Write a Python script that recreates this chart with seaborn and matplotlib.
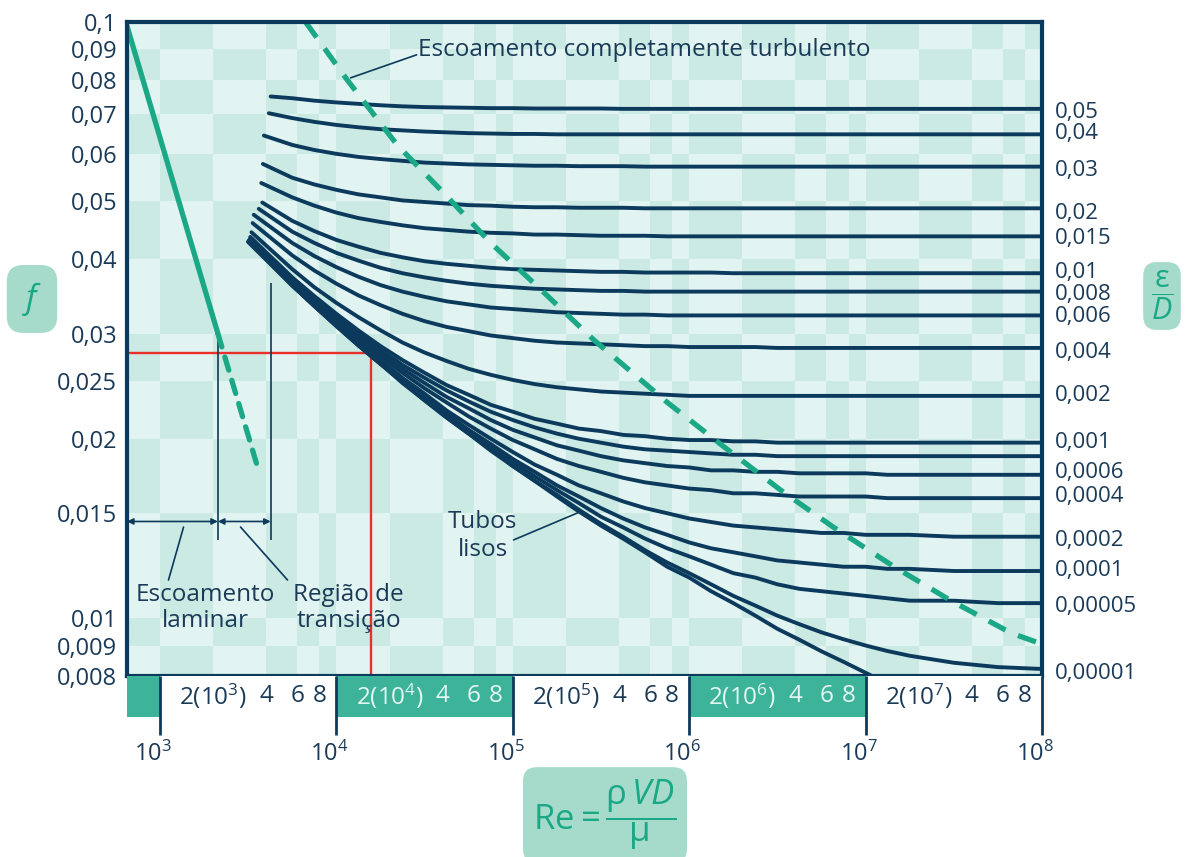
import numpy as np
import pandas as pd
import matplotlib
matplotlib.use("Agg")
import matplotlib.pyplot as plt
import matplotlib.transforms as mtransforms
import seaborn as sns
from matplotlib.colors import ListedColormap
from matplotlib.ticker import FixedLocator, FixedFormatter, NullLocator

# ------------------------------------------------------------------ data
re_grid = [5.62e3, 7.5e3, 1.0e4, 1.33e4, 1.78e4, 2.37e4, 3.16e4, 4.22e4, 5.62e4, 7.5e4,
           1.0e5, 1.33e5, 1.78e5, 2.37e5, 3.16e5, 4.22e5, 5.62e5, 7.5e5, 1.0e6, 1.33e6,
           1.78e6, 2.37e6, 3.16e6, 4.22e6, 5.62e6, 7.5e6, 1.0e7, 1.33e7, 1.78e7, 3.16e7,
           5.62e7, 1.0e8]

curve_names = ["0,05", "0,04", "0,03", "0,02", "0,015", "0,01", "0,008", "0,006",
               "0,004", "0,002", "0,001", "0,0008", "0,0006", "0,0004", "0,0002",
               "0,0001", "0,00005", "0,00001", "liso"]

start_re = [4240, 4140, 3880, 3830, 3750, 3800, 3630, 3400, 3350, 3300, 3250, 3250,
            3250, 3250, 3200, 3200, 3200, 3200, 3150]
start_f = [0.0750, 0.0703, 0.0645, 0.0578, 0.0537, 0.0498, 0.0486, 0.0475, 0.0460,
           0.0444, 0.0436, 0.0434, 0.0432, 0.0430, 0.0431, 0.0430, 0.0429, 0.0429, 0.0428]

f_05 = [0.0745, 0.0738, 0.0733, 0.0729, 0.0725, 0.0722, 0.0720, 0.0719, 0.0718, 0.0717,
        0.0717, 0.0716, 0.0716, 0.0716, 0.0716, 0.0715, 0.0715, 0.0715, 0.0715, 0.0715,
        0.0715, 0.0715, 0.0715, 0.0715, 0.0715, 0.0715, 0.0715, 0.0715, 0.0715, 0.0715,
        0.0715, 0.0715]
f_04 = [0.0690, 0.0680, 0.0672, 0.0666, 0.0661, 0.0658, 0.0655, 0.0653, 0.0651, 0.0650,
        0.0649, 0.0649, 0.0648, 0.0648, 0.0648, 0.0648, 0.0648, 0.0648, 0.0648, 0.0648,
        0.0648, 0.0648, 0.0648, 0.0648, 0.0648, 0.0648, 0.0648, 0.0648, 0.0648, 0.0648,
        0.0648, 0.0648]
f_03 = [0.0622, 0.0610, 0.0601, 0.0594, 0.0589, 0.0585, 0.0581, 0.0579, 0.0577, 0.0576,
        0.0575, 0.0574, 0.0574, 0.0573, 0.0573, 0.0573, 0.0572, 0.0572, 0.0572, 0.0572,
        0.0572, 0.0572, 0.0572, 0.0572, 0.0572, 0.0572, 0.0572, 0.0572, 0.0572, 0.0572,
        0.0572, 0.0572]
f_02 = [0.0548, 0.0534, 0.0523, 0.0514, 0.0508, 0.0502, 0.0499, 0.0496, 0.0493, 0.0492,
        0.0490, 0.0489, 0.0489, 0.0488, 0.0488, 0.0488, 0.0487, 0.0487, 0.0487, 0.0487,
        0.0487, 0.0487, 0.0487, 0.0487, 0.0487, 0.0487, 0.0487, 0.0487, 0.0487, 0.0487,
        0.0487, 0.0487]
f_015 = [0.0508, 0.0492, 0.0479, 0.0469, 0.0462, 0.0456, 0.0451, 0.0448, 0.0445, 0.0443,
         0.0442, 0.0440, 0.0440, 0.0439, 0.0438, 0.0438, 0.0438, 0.0437, 0.0437, 0.0437,
         0.0437, 0.0437, 0.0437, 0.0437, 0.0437, 0.0437, 0.0437, 0.0437, 0.0437, 0.0437,
         0.0437, 0.0437]
f_01 = [0.0464, 0.0446, 0.0431, 0.0420, 0.0410, 0.0403, 0.0397, 0.0393, 0.0390, 0.0387,
        0.0385, 0.0384, 0.0383, 0.0382, 0.0381, 0.0381, 0.0380, 0.0380, 0.0380, 0.0380,
        0.0379, 0.0379, 0.0379, 0.0379, 0.0379, 0.0379, 0.0379, 0.0379, 0.0379, 0.0379,
        0.0379, 0.0379]
f_008 = [0.0445, 0.0426, 0.0410, 0.0398, 0.0387, 0.0379, 0.0373, 0.0368, 0.0364, 0.0361,
         0.0359, 0.0357, 0.0356, 0.0355, 0.0354, 0.0354, 0.0353, 0.0353, 0.0353, 0.0353,
         0.0353, 0.0353, 0.0353, 0.0353, 0.0353, 0.0353, 0.0353, 0.0353, 0.0353, 0.0353,
         0.0353, 0.0353]
f_006 = [0.0426, 0.0405, 0.0388, 0.0374, 0.0362, 0.0353, 0.0346, 0.0340, 0.0336, 0.0332,
         0.0330, 0.0328, 0.0326, 0.0325, 0.0324, 0.0323, 0.0323, 0.0322, 0.0322, 0.0322,
         0.0322, 0.0322, 0.0322, 0.0322, 0.0322, 0.0322, 0.0322, 0.0322, 0.0322, 0.0322,
         0.0322, 0.0322]
f_004 = [0.0406, 0.0383, 0.0364, 0.0348, 0.0335, 0.0324, 0.0315, 0.0308, 0.0303, 0.0298,
         0.0295, 0.0292, 0.0290, 0.0289, 0.0288, 0.0287, 0.0286, 0.0286, 0.0285, 0.0285,
         0.0285, 0.0285, 0.0284, 0.0284, 0.0284, 0.0284, 0.0284, 0.0284, 0.0284, 0.0284,
         0.0284, 0.0284]
f_002 = [0.0385, 0.0359, 0.0338, 0.0320, 0.0304, 0.0290, 0.0279, 0.0270, 0.0262, 0.0256,
         0.0251, 0.0247, 0.0244, 0.0242, 0.0240, 0.0239, 0.0238, 0.0237, 0.0236, 0.0236,
         0.0236, 0.0236, 0.0236, 0.0236, 0.0236, 0.0236, 0.0236, 0.0236, 0.0236, 0.0236,
         0.0236, 0.0236]
f_001 = [0.0373, 0.0347, 0.0324, 0.0304, 0.0286, 0.0271, 0.0258, 0.0246, 0.0237, 0.0228,
         0.0222, 0.0216, 0.0212, 0.0208, 0.0206, 0.0203, 0.0202, 0.0200, 0.0199, 0.0199,
         0.0198, 0.0198, 0.0197, 0.0197, 0.0197, 0.0197, 0.0197, 0.0197, 0.0197, 0.0197,
         0.0197, 0.0197]
f_0008 = [0.0371, 0.0344, 0.0321, 0.0300, 0.0282, 0.0266, 0.0253, 0.0241, 0.0231, 0.0222,
          0.0215, 0.0209, 0.0204, 0.0200, 0.0197, 0.0194, 0.0192, 0.0191, 0.0190, 0.0189,
          0.0188, 0.0188, 0.0187, 0.0187, 0.0187, 0.0187, 0.0187, 0.0187, 0.0187, 0.0187,
          0.0187, 0.0187]
f_0006 = [0.0368, 0.0341, 0.0318, 0.0297, 0.0279, 0.0262, 0.0248, 0.0235, 0.0225, 0.0215,
          0.0207, 0.0201, 0.0195, 0.0191, 0.0187, 0.0184, 0.0182, 0.0180, 0.0179, 0.0177,
          0.0177, 0.0176, 0.0176, 0.0175, 0.0175, 0.0175, 0.0175, 0.0174, 0.0174, 0.0174,
          0.0174, 0.0174]
f_0004 = [0.0367, 0.0339, 0.0315, 0.0293, 0.0275, 0.0258, 0.0243, 0.0230, 0.0218, 0.0208,
          0.0199, 0.0192, 0.0185, 0.0180, 0.0176, 0.0172, 0.0169, 0.0167, 0.0165, 0.0164,
          0.0162, 0.0162, 0.0161, 0.0160, 0.0160, 0.0160, 0.0160, 0.0159, 0.0159, 0.0159,
          0.0159, 0.0159]
f_0002 = [0.0364, 0.0336, 0.0312, 0.0290, 0.0271, 0.0253, 0.0238, 0.0223, 0.0211, 0.0200,
          0.0190, 0.0181, 0.0174, 0.0167, 0.0162, 0.0157, 0.0153, 0.0150, 0.0147, 0.0145,
          0.0143, 0.0142, 0.0141, 0.0140, 0.0139, 0.0139, 0.0138, 0.0138, 0.0138, 0.0137,
          0.0137, 0.0137]
f_0001 = [0.0363, 0.0334, 0.0310, 0.0288, 0.0269, 0.0251, 0.0235, 0.0220, 0.0207, 0.0196,
          0.0185, 0.0176, 0.0167, 0.0160, 0.0153, 0.0147, 0.0142, 0.0138, 0.0134, 0.0131,
          0.0129, 0.0127, 0.0125, 0.0124, 0.0123, 0.0122, 0.0122, 0.0121, 0.0121, 0.0120,
          0.0120, 0.0120]
f_00005 = [0.0362, 0.0334, 0.0310, 0.0287, 0.0267, 0.0250, 0.0233, 0.0219, 0.0206, 0.0193,
           0.0183, 0.0173, 0.0164, 0.0156, 0.0148, 0.0142, 0.0136, 0.0131, 0.0127, 0.0123,
           0.0119, 0.0117, 0.0114, 0.0112, 0.0111, 0.0110, 0.0109, 0.0108, 0.0107, 0.0107,
           0.0106, 0.0106]
f_00001 = [0.0362, 0.0334, 0.0309, 0.0287, 0.0267, 0.0249, 0.0232, 0.0217, 0.0204, 0.0192,
           0.0180, 0.0170, 0.0161, 0.0152, 0.0144, 0.0137, 0.0130, 0.0124, 0.0119, 0.0114,
           0.0109, 0.0105, 0.0101, 0.00977, 0.00947, 0.00922, 0.00900, 0.00881, 0.00865,
           0.00842, 0.00828, 0.00822]
f_smooth = [0.0361, 0.0334, 0.0309, 0.0287, 0.0267, 0.0248, 0.0232, 0.0217, 0.0204, 0.0191,
            0.0180, 0.0170, 0.0160, 0.0151, 0.0143, 0.0136, 0.0129, 0.0122, 0.0117, 0.0111,
            0.0106, 0.0101, 0.0096, 0.0092, 0.0088, 0.00845, 0.0081, 0.00777, 0.0075]

curve_f = [f_05, f_04, f_03, f_02, f_015, f_01, f_008, f_006, f_004, f_002, f_001,
           f_0008, f_0006, f_0004, f_0002, f_0001, f_00005, f_00001, f_smooth]

# right-hand relative roughness labels (values at the label positions)
right_labels = ["0,05", "0,04", "0,03", "0,02", "0,015", "0,01", "0,008", "0,006",
                "0,004", "0,002", "0,001", "0,0006", "0,0004", "0,0002", "0,0001",
                "0,00005", "0,00001"]
right_label_f = [0.0713, 0.0657, 0.0569, 0.0482, 0.0438, 0.0384, 0.0353, 0.0324, 0.0282,
                 0.0239, 0.0199, 0.01773, 0.01616, 0.01363, 0.01215, 0.01057, 0.00816]

# laminar line (solid part and dashed continuation)
lam_re = [640, 2130]
lam_f = [0.100, 0.0300]
lam_dash_re = [2130, 3560]
lam_dash_f = [0.0300, 0.0180]

# boundary of completely turbulent flow (dashed)
turb_re = [6680, 11500, 22100, 40500, 75000, 143900, 287500, 753000, 1.57e6, 3.3e6,
           6.6e6, 1.45e7, 3.05e7, 6.7e7, 1.0e8]
turb_f = [0.100, 0.0800, 0.0622, 0.0517, 0.0426, 0.0356, 0.0293, 0.0230, 0.0194, 0.0164,
          0.0142, 0.0122, 0.0107, 0.00944, 0.00905]

# example reading (red lines)
red_re = 1.58e4
red_f = 0.0279

# laminar / transition limits
lam_limit_re = 2130
trans_limit_re = 4240

y_ticks = [0.008, 0.009, 0.01, 0.015, 0.02, 0.025, 0.03, 0.04, 0.05, 0.06, 0.07, 0.08,
           0.09, 0.1]
y_tick_labels = ["0,008", "0,009", "0,01", "0,015", "0,02", "0,025", "0,03", "0,04",
                 "0,05", "0,06", "0,07", "0,08", "0,09", "0,1"]
decades = [3, 4, 5, 6, 7, 8]

# ------------------------------------------------------------------ style
navy = "#0c3a5c"
text_navy = "#1a3a58"
teal = "#1aa886"
teal_band = "#3db39a"
teal_box = "#a6dbcc"
bg_light = "#e2f4f1"
bg_dark = "#cbeae3"
red = "#e8302c"

sns.set_theme(style="white")
plt.rcParams['font.family'] = ['Open Sans', 'DejaVu Sans']
plt.rcParams['mathtext.fontset'] = 'custom'
plt.rcParams['mathtext.rm'] = 'Open Sans'
plt.rcParams['mathtext.it'] = 'Open Sans:italic'
plt.rcParams['mathtext.bf'] = 'Open Sans:bold'

W_PX, H_PX = 1187, 857
fig = plt.figure(figsize=(W_PX / 100, H_PX / 100), dpi=100)
fig.patch.set_facecolor("white")

L = 127 / W_PX
Wd = (1042 - 127) / W_PX
B = 1 - 676 / H_PX
Ht = (676 - 22) / H_PX
ax = fig.add_axes([L, B, Wd, Ht])
ax.set_xscale("log")
ax.set_yscale("log")
XMIN, XMAX = 650, 1e8
YMIN, YMAX = 0.008, 0.1
ax.set_xlim(XMIN, XMAX)
ax.set_ylim(YMIN, YMAX)

# checker background
x_edges = [XMIN] + [m * 10 ** n for n in range(3, 8) for m in (1, 2, 4, 6, 8)] + [XMAX]
y_edges = y_ticks
Z = np.indices((len(y_edges) - 1, len(x_edges) - 1)).sum(axis=0) % 2
ax.pcolormesh(x_edges, y_edges, Z, cmap=ListedColormap([bg_light, bg_dark]),
              shading="flat", zorder=0, rasterized=True)

# curves
rows = []
for name, s_re, s_f, fvals in zip(curve_names, start_re, start_f, curve_f):
    rows.append({"Re": s_re, "f": s_f, "curve": name})
    for r, v in zip(re_grid, fvals):
        rows.append({"Re": r, "f": v, "curve": name})
df = pd.DataFrame(rows)
sns.lineplot(data=df, x="Re", y="f", hue="curve", estimator=None, sort=False,
             palette={n: navy for n in curve_names}, legend=False, lw=2.8,
             ax=ax, zorder=3)
for ln in ax.lines:
    ln.set_solid_joinstyle("round")
    ln.set_solid_capstyle("round")

# laminar
sns.lineplot(x=lam_re, y=lam_f, color=teal, lw=3.8, ax=ax, zorder=4,
             solid_capstyle="butt")
sns.lineplot(x=lam_dash_re, y=lam_dash_f, color=teal, lw=3.8, ax=ax, zorder=4,
             linestyle=(0, (2.6, 2.0)), dash_capstyle="round")
# completely turbulent limit
sns.lineplot(x=turb_re, y=turb_f, color=teal, lw=3.8, ax=ax, zorder=5,
             linestyle=(0, (3.6, 2.6)), dash_capstyle="butt")

# red example lines
ax.hlines(red_f, XMIN, red_re, color=red, lw=1.7, zorder=2)
ax.vlines(red_re, YMIN, red_f, color=red, lw=1.7, zorder=2)

# laminar / transition markers
ax.vlines(lam_limit_re, 0.01353, 0.0293, color=navy, lw=1.2, zorder=3)
ax.vlines(trans_limit_re, 0.01353, 0.0365, color=navy, lw=1.2, zorder=3)
arrow_f = 0.01453
for x0, x1 in [(XMIN, lam_limit_re), (lam_limit_re, trans_limit_re)]:
    ax.annotate("", xy=(x1, arrow_f), xytext=(x0, arrow_f),
                arrowprops=dict(arrowstyle="<|-|>", color=navy, lw=1.2,
                                mutation_scale=9, shrinkA=0, shrinkB=0), zorder=3)

# annotations
txt_kw = dict(color=text_navy, fontsize=17.5, zorder=6)
leader = dict(arrowstyle="-", color=navy, lw=1.2, shrinkA=0, shrinkB=0)
ax.text(1812, 0.0104, "Escoamento\nlaminar", ha="center", va="center",
        linespacing=1.15, **txt_kw)
ax.annotate("", xy=(1360, 0.01422), xytext=(1117, 0.01159), arrowprops=leader)
ax.text(11720, 0.0104, "Região de\ntransição", ha="center", va="center",
        linespacing=1.15, **txt_kw)
ax.annotate("", xy=(2862, 0.01422), xytext=(5285, 0.01159), arrowprops=leader)
ax.text(67400, 0.01374, "Tubos\nlisos", ha="center", va="center",
        linespacing=1.2, **txt_kw)
ax.annotate("", xy=(2.33e5, 0.01502), xytext=(1.01e5, 0.01353), arrowprops=leader)
ax.text(29200, 0.0898, "Escoamento completamente turbulento", ha="left", va="center",
        **txt_kw)
ax.annotate("", xy=(12040, 0.0806), xytext=(28500, 0.0881), arrowprops=leader)

# axes styling
for sp in ax.spines.values():
    sp.set_color(navy)
    sp.set_linewidth(3.0)
    sp.set_zorder(7)
ax.yaxis.set_major_locator(FixedLocator(y_ticks))
ax.yaxis.set_major_formatter(FixedFormatter(y_tick_labels))
ax.yaxis.set_minor_locator(NullLocator())
ax.xaxis.set_major_locator(NullLocator())
ax.xaxis.set_minor_locator(NullLocator())
ax.tick_params(axis="y", length=0, pad=7, labelsize=17, labelcolor=text_navy)
ax.set_xlabel("")
ax.set_ylabel("")

# right-hand relative roughness labels
axr = ax.twinx()
axr.set_yscale("log")
axr.set_ylim(YMIN, YMAX)
axr.yaxis.set_major_locator(FixedLocator(right_label_f))
axr.yaxis.set_major_formatter(FixedFormatter(right_labels))
axr.yaxis.set_minor_locator(NullLocator())
axr.tick_params(axis="y", length=0, pad=9, labelsize=16, labelcolor=text_navy)
for sp in axr.spines.values():
    sp.set_visible(False)

# bottom band with Reynolds number scale
band_top, band_bot, line_bot = 676, 717, 735
axb = fig.add_axes([L, 1 - line_bot / H_PX, Wd, (line_bot - band_top) / H_PX])
axb.set_xscale("log")
axb.set_xlim(XMIN, XMAX)
axb.set_ylim(0, 1)
frac = (line_bot - band_bot) / (line_bot - band_top)
teal_spans = [(XMIN, 1e3), (1e4, 1e5), (1e6, 1e7)]
for a, b in teal_spans:
    axb.axvspan(a, b, ymin=frac, ymax=1, color=teal_band, lw=0)
axb.vlines([10.0 ** d for d in decades], 0, 1, color=navy, lw=2.0, clip_on=False)
band_mid = (1 + frac) / 2
for d in decades[:-1]:
    in_teal = any(a <= 2 * 10 ** d < b for a, b in teal_spans)
    c = "#e6f6f2" if in_teal else text_navy
    axb.text(2 * 10 ** d, band_mid, "2(10$^{%d}$)" % d, ha="center", va="center",
             color=c, fontsize=17.5)
    for m in (4, 6, 8):
        axb.text(m * 10 ** d, band_mid, str(m), ha="center", va="center",
                 color=c, fontsize=17.5)
for sp in axb.spines.values():
    sp.set_visible(False)
axb.yaxis.set_major_locator(NullLocator())
axb.yaxis.set_minor_locator(NullLocator())
axb.xaxis.set_major_locator(FixedLocator([10.0 ** d for d in decades]))
axb.xaxis.set_major_formatter(FixedFormatter(["10$^{%d}$" % d for d in decades]))
axb.xaxis.set_minor_locator(NullLocator())
axb.tick_params(axis="x", length=0, pad=5, labelsize=17, labelcolor=text_navy)
axb.set_facecolor("white")
shift = mtransforms.ScaledTranslation(-7 / 100, 0, fig.dpi_scale_trans)
for lab in axb.get_xticklabels():
    lab.set_transform(lab.get_transform() + shift)

# axis titles in rounded boxes
box_kw = dict(boxstyle="round,pad=0.45,rounding_size=0.5", fc=teal_box, ec="none")
fig.text(32 / W_PX, 1 - 299 / H_PX, "$f$", ha="center", va="center", fontsize=24,
         color=teal, bbox=box_kw)
fig.text(1162 / W_PX, 1 - 296 / H_PX, r"$\dfrac{\mathrm{\varepsilon}}{D}$", ha="center",
         va="center", fontsize=22, color=teal,
         bbox=dict(boxstyle="round,pad=0.25,rounding_size=0.45", fc=teal_box, ec="none"))
fig.text(605 / W_PX, 1 - 815 / H_PX,
         r"$\mathrm{Re} = \dfrac{\mathrm{\rho}\, VD}{\mathrm{\mu}}$",
         ha="center", va="center", fontsize=25, color=teal,
         bbox=dict(boxstyle="round,pad=0.3,rounding_size=0.4", fc=teal_box, ec="none"))

fig.savefig("out.png", dpi=100)
